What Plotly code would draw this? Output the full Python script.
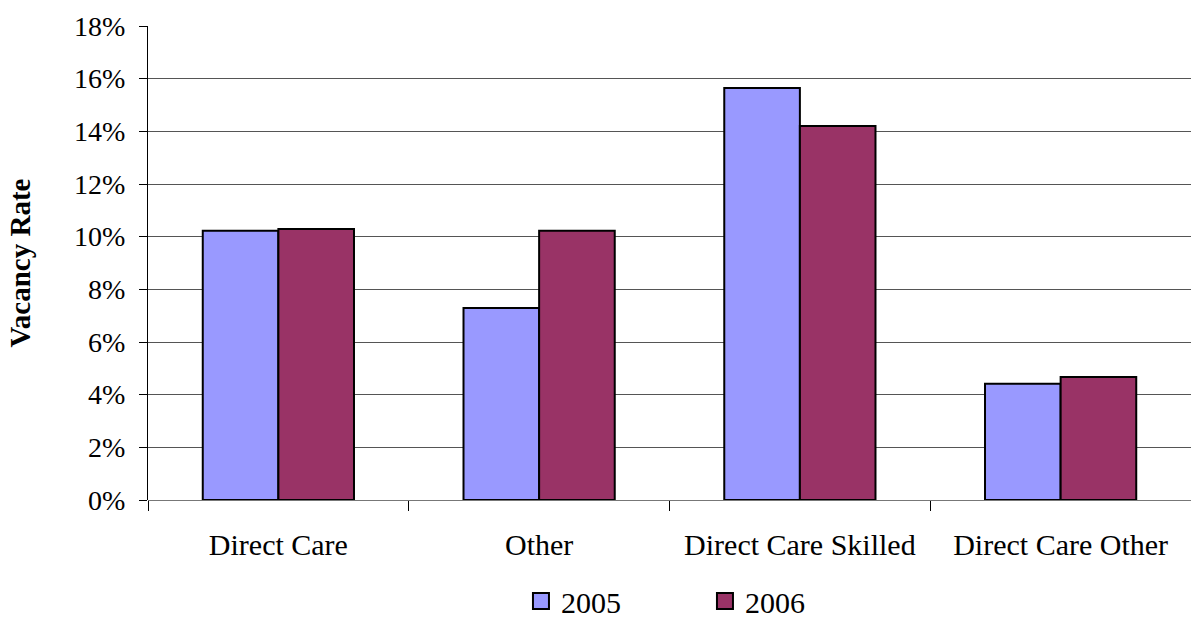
import plotly.graph_objects as go

categories = ["Direct Care", "Other", "Direct Care Skilled", "Direct Care Other"]
series_names = ["2005", "2006"]
values_2005 = [0.1022, 0.0729, 0.1565, 0.0441]
values_2006 = [0.1029, 0.1022, 0.1420, 0.0467]
colors = ["#9999FF", "#993366"]
y_ticks = [0, 0.02, 0.04, 0.06, 0.08, 0.10, 0.12, 0.14, 0.16, 0.18]

FONT = "Liberation Serif"

fig = go.Figure()
for name, vals, col in zip(series_names, [values_2005, values_2006], colors):
    fig.add_trace(go.Bar(
        x=categories, y=vals, name=name, showlegend=False,
        marker=dict(color=col, line=dict(color="black", width=2)),
    ))
    fig.add_trace(go.Scatter(
        x=[None], y=[None], mode="markers", name=name,
        marker=dict(symbol="square", size=16, color=col,
                    line=dict(color="black", width=2)),
    ))

fig.update_layout(
    width=1191, height=627,
    margin=dict(l=148, r=0, t=26, b=127, autoexpand=False),
    paper_bgcolor="white", plot_bgcolor="white",
    barmode="group", bargap=0.42, bargroupgap=0,
    font=dict(family=FONT, color="black"),
    showlegend=True,
    legend=dict(orientation="h", x=0.534, xref="paper", xanchor="center",
                y=0.0, yref="container", yanchor="bottom",
                font=dict(size=30, family=FONT), borderwidth=0,
                entrywidth=139, itemclick=False),
    xaxis=dict(
        type="category", tickson="boundaries", ticks="outside", ticklen=10,
        tickcolor="black", tickwidth=1, showgrid=False,
        tickfont=dict(size=30, family=FONT), showline=False,
        ticklabelstandoff=24, automargin=False,
    ),
    yaxis=dict(
        range=[0, 0.18], tickvals=y_ticks, tickformat=".0%",
        ticks="outside", ticklen=8, tickcolor="black",
        showgrid=True, gridcolor="#555555", gridwidth=1,
        showline=True, linecolor="black", linewidth=1,
        zeroline=True, zerolinecolor="#777777", zerolinewidth=1,
        tickfont=dict(size=28, family=FONT), ticklabelstandoff=8,
        automargin=False,
        title=dict(text="<b>Vacancy Rate</b>", font=dict(size=29, family=FONT), standoff=34),
    ),
)

fig.write_html("out.html")
